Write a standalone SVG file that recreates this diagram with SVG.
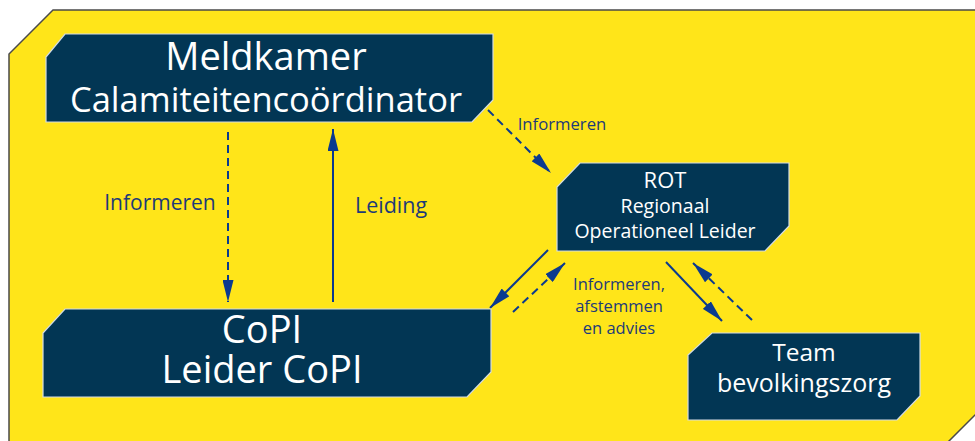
<svg xmlns="http://www.w3.org/2000/svg" width="975" height="441" viewBox="0 0 975 441">
<style>
.node{fill:#023654;stroke:#D5DCE3;stroke-width:1.2}
.nt{fill:#FFFFFF;font-family:"Open Sans","DejaVu Sans",sans-serif;text-anchor:middle}
.lb{fill:#1D3A78;font-family:"Open Sans","DejaVu Sans",sans-serif;text-anchor:middle}
.sol{stroke:#0B3A8F;stroke-width:2;fill:none}
.dash{stroke:#0B3A8F;stroke-width:2;fill:none;stroke-dasharray:8 5}
</style>
<defs>
<marker id="ah" viewBox="0 0 22 11" refX="22" refY="5.5" markerWidth="22" markerHeight="11" markerUnits="userSpaceOnUse" orient="auto">
<path d="M0,0 L22,5.5 L0,11 z" fill="#0B3A8F"/>
</marker>
</defs>
<rect x="0" y="0" width="975" height="441" fill="#FFFFFF"/>
<polygon points="53,10 990,10 990,400 941,449 9,449 9,54" fill="#FFE519" stroke="#4A4A4A" stroke-width="1.5"/>
<g id="connectors">
<line class="dash" x1="228" y1="132" x2="228" y2="302" marker-end="url(#ah)"/>
<line class="sol" x1="333" y1="302" x2="333" y2="129" marker-end="url(#ah)"/>
<line class="dash" x1="488" y1="110" x2="551" y2="173" marker-end="url(#ah)"/>
<line class="sol" x1="548" y1="250" x2="490" y2="308" marker-end="url(#ah)"/>
<line class="dash" x1="513" y1="312" x2="565" y2="263" marker-end="url(#ah)"/>
<line class="sol" x1="666" y1="262" x2="722" y2="321" marker-end="url(#ah)"/>
<line class="dash" x1="752" y1="320" x2="693" y2="263" marker-end="url(#ah)"/>
<text class="lb" x="160" y="210" font-size="21">Informeren</text>
<text class="lb" x="391" y="213" font-size="21.5">Leiding</text>
<text class="lb" x="562" y="130" font-size="16.7">Informeren</text>
<text class="lb" x="619" y="290" font-size="16.5">Informeren,</text>
<text class="lb" x="619" y="312" font-size="16.5">afstemmen</text>
<text class="lb" x="619" y="334" font-size="16.5">en advies</text>
</g>
<g id="meldkamer">
<polygon class="node" points="65,34 493,34 493,100 472,122 46,122 46,57"/>
<text class="nt" x="266" y="70" font-size="38">Meldkamer</text>
<text class="nt" x="266" y="112" font-size="34.5">Calamiteitencoördinator</text>
</g>
<g id="rot">
<polygon class="node" points="580,163 789,163 789,226 765,251 557,251 557,187"/>
<text class="nt" x="665" y="188" font-size="22">ROT</text>
<text class="nt" x="665" y="213" font-size="19.5">Regionaal</text>
<text class="nt" x="665" y="238" font-size="19.5">Operationeel Leider</text>
</g>
<g id="copi">
<polygon class="node" points="65,309 491,309 491,372 467,397 43,397 43,333"/>
<text class="nt" x="262" y="343" font-size="38">CoPI</text>
<text class="nt" x="262" y="383" font-size="38">Leider CoPI</text>
</g>
<g id="team">
<polygon class="node" points="712,333 920,333 920,396 897,420 688,420 688,355"/>
<text class="nt" x="804" y="361" font-size="24.5">Team</text>
<text class="nt" x="804" y="392" font-size="25">bevolkingszorg</text>
</g>
</svg>
